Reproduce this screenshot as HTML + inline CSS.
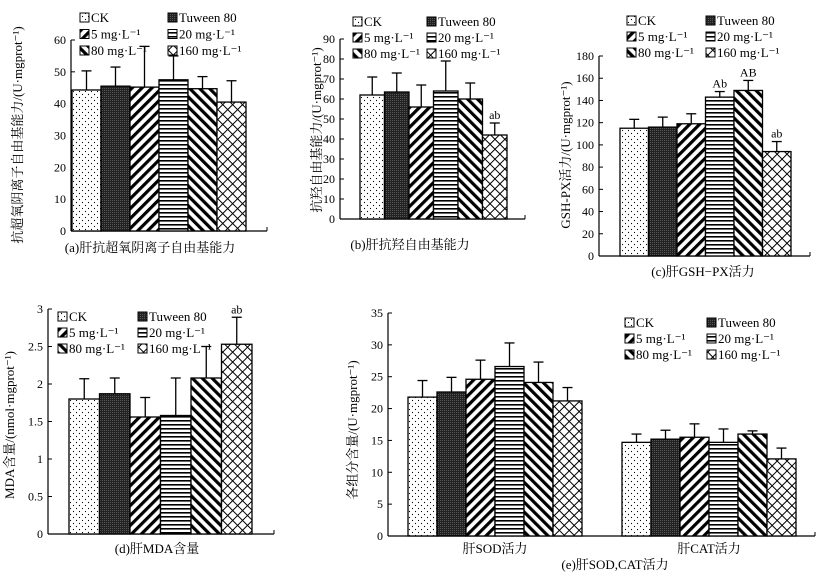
<!DOCTYPE html>
<html><head><meta charset="utf-8"><style>
body{margin:0;background:#fff}
svg{display:block;font-family:"Liberation Serif","Noto Serif CJK SC",serif}
</style></head><body>
<svg id="c" width="825" height="577" viewBox="0 0 825 577">
<defs>
<pattern id="p0" width="6" height="6" patternUnits="userSpaceOnUse"><rect width="6" height="6" fill="#fff"/><circle cx="1.5" cy="1.5" r="0.6" fill="#000"/><circle cx="4.5" cy="4.5" r="0.6" fill="#000"/></pattern>
<pattern id="p1" width="2" height="2" patternUnits="userSpaceOnUse"><rect width="2" height="2" fill="#222"/><rect width="1" height="1" fill="#555"/></pattern>
<pattern id="p2" width="7" height="7" patternUnits="userSpaceOnUse" patternTransform="rotate(45)"><rect width="7" height="7" fill="#fff"/><rect width="3.2" height="7" fill="#000"/></pattern>
<pattern id="p3" width="4" height="4" patternUnits="userSpaceOnUse"><rect width="4" height="4" fill="#fff"/><rect width="4" height="1.6" fill="#000"/></pattern>
<pattern id="p4" width="7" height="7" patternUnits="userSpaceOnUse" patternTransform="rotate(-45)"><rect width="7" height="7" fill="#fff"/><rect width="3.2" height="7" fill="#000"/></pattern>
<pattern id="p5" width="7" height="7" patternUnits="userSpaceOnUse" patternTransform="rotate(45)"><rect width="7" height="7" fill="#fff"/><rect width="1" height="7" fill="#000"/><rect width="7" height="1" fill="#000"/></pattern>
</defs>
</svg>
<script>
const legendLabels = ["CK","Tuween 80","5 mg·L⁻¹","20 mg·L⁻¹","80 mg·L⁻¹","160 mg·L⁻¹"];
const aValues = [44.3,45.5,45.2,47.5,44.7,40.5];
const aErrors = [50.3,51.5,58,55,48.5,47.2];
const aTicks = [0,10,20,30,40,50,60];
const bValues = [62,63.5,56,64,60,42];
const bErrors = [71,73,67,79,68,48];
const bTicks = [0,10,20,30,40,50,60,70,80,90];
const cValues = [115,116,119,143,149,94];
const cErrors = [123,125,128,148,158,103];
const cTicks = [0,20,40,60,80,100,120,140,160,180];
const dValues = [1.8,1.87,1.56,1.58,2.08,2.53];
const dErrors = [2.07,2.08,1.82,2.08,2.5,2.89];
const dTicks = [0,0.5,1,1.5,2,2.5,3];
const eCategories = ["肝SOD活力","肝CAT活力"];
const eSOD = [21.8,22.6,24.6,26.6,24.1,21.2];
const eSODErr = [24.4,24.9,27.6,30.3,27.3,23.3];
const eCAT = [14.7,15.2,15.5,14.7,16.0,12.1];
const eCATErr = [16.0,16.6,17.6,16.8,16.5,13.8];
const eTicks = [0,5,10,15,20,25,30,35];

const NS="http://www.w3.org/2000/svg";
const svg=document.getElementById('c');
function mk(tag,attrs,parent,text){const e=document.createElementNS(NS,tag);for(const k in attrs)e.setAttribute(k,attrs[k]);if(text!==undefined)e.textContent=text;(parent||svg).appendChild(e);return e;}

function panel(id,cfg){
  const g=mk('g',{});
  
  
  const max=cfg.ticks[cfg.ticks.length-1];
  const y=v=>cfg.y0-(v/max)*(cfg.y0-cfg.yTop);
  // axes
  const ax=mk('line',{x1:cfg.ax,y1:cfg.yTop,x2:cfg.ax,y2:cfg.y0,stroke:'#000','stroke-width':1.2},g);
  
  
  const xx=mk('line',{x1:cfg.ax,y1:cfg.y0,x2:cfg.axEnd,y2:cfg.y0,stroke:'#000','stroke-width':1.2},g);
  
  
  mk('line',{x1:cfg.axEnd,y1:cfg.y0,x2:cfg.axEnd,y2:cfg.y0-4,stroke:'#000'},g);
  cfg.ticks.forEach(t=>{
    mk('line',{x1:cfg.ax,y1:y(t),x2:cfg.ax+4,y2:y(t),stroke:'#000'},g);
    const tl=mk('text',{x:cfg.ax-5,y:y(t)+4,'text-anchor':'end','font-size':12},g,String(t));
    
    
  });
  // bars
  cfg.groups.forEach(gr=>{
    gr.values.forEach((v,i)=>{
      const x=gr.x+i*cfg.bw;
      const e=gr.errors[i];
      mk('line',{x1:x+cfg.bw/2,y1:y(v),x2:x+cfg.bw/2,y2:y(e),stroke:'#000','stroke-width':1.3},g);
      mk('line',{x1:x+cfg.bw/2-5,y1:y(e),x2:x+cfg.bw/2+5,y2:y(e),stroke:'#000','stroke-width':1.3},g);
      const r=mk('rect',{x:x,y:y(v),width:cfg.bw,height:cfg.y0-y(v),fill:'url(#p'+i+')',stroke:'#000','stroke-width':1.3},g);
      
      
      if(gr.marks&&gr.marks[i]){
        const m=mk('text',{x:x+cfg.bw/2,y:y(e)-4,'text-anchor':'middle','font-size':12},g,gr.marks[i]);
        
        
      }
    });
  });
  // legend
  legendLabels.forEach((l,i)=>{
    const lx=i%2?cfg.lx2:cfg.lx, ly=cfg.ly+Math.floor(i/2)*cfg.lh;
    const s=mk('rect',{x:lx,y:ly-9,width:9,height:9,fill:'url(#p'+i+')',stroke:'#000','stroke-width':1},g);
    
    
    const t=mk('text',{x:lx+11,y:ly,'font-size':13},g,l);
    
    
  });
  // y label
  const yl=mk('text',{x:0,y:0,'text-anchor':'middle','font-size':13,transform:`translate(${cfg.ylx},${cfg.yly}) rotate(-90)`},g,cfg.ylabel);
  
  
  const cap=mk('text',{x:cfg.capx,y:cfg.capy,'text-anchor':'middle','font-size':13},g,cfg.caption);
  
  
  return {g,y};
}

panel('a',{ticks:aTicks,ax:71,y0:231,yTop:40,axEnd:267,bw:29,groups:[{x:72,values:aValues,errors:aErrors}],
  lx:80,lx2:168,ly:22,lh:16.5,ylx:22,yly:135,ylabel:"抗超氧阴离子自由基能力/(U·mgprot⁻¹)",capx:150,capy:252,caption:"(a)肝抗超氧阴离子自由基能力"});
panel('b',{ticks:bTicks,ax:340,y0:219,yTop:39,axEnd:525,bw:24.5,groups:[{x:360,values:bValues,errors:bErrors,marks:["","","","","","ab"]}],
  lx:353,lx2:427,ly:26,lh:16,ylx:321,yly:130,ylabel:"抗羟自由基能力/(U·mgprot⁻¹)",capx:410,capy:249,caption:"(b)肝抗羟自由基能力"});
panel('c',{ticks:cTicks,ax:599,y0:256,yTop:56,axEnd:810,bw:28.5,groups:[{x:620,values:cValues,errors:cErrors,marks:["","","","Ab","AB","ab"]}],
  lx:627,lx2:706,ly:25,lh:16,ylx:570,yly:155,ylabel:"GSH-PX活力/(U·mgprot⁻¹)",capx:703,capy:276,caption:"(c)肝GSH−PX活力"});
panel('d',{ticks:dTicks,ax:48,y0:534,yTop:309,axEnd:274,bw:30.5,groups:[{x:69,values:dValues,errors:dErrors,marks:["","","","","","ab"]}],
  lx:58,lx2:138,ly:321,lh:16,ylx:14,yly:425,ylabel:"MDA含量/(nmol·mgprot⁻¹)",capx:157,capy:553,caption:"(d)肝MDA含量"});
panel('e',{ticks:eTicks,ax:388,y0:536,yTop:313,axEnd:815,bw:29,groups:[{x:408,values:eSOD,errors:eSODErr},{x:622,values:eCAT,errors:eCATErr}],
  lx:625,lx2:707,ly:327,lh:16,ylx:357,yly:430,ylabel:"各组分含量/(U·mgprot⁻¹)",capx:615,capy:569,caption:"(e)肝SOD,CAT活力"});
const eStarts=[408,622];
eCategories.forEach((c,i)=>{
  const t=mk('text',{x:eStarts[i]+87,y:553,'text-anchor':'middle','font-size':13},svg,c);
  
  
});
</script>
</body></html>
